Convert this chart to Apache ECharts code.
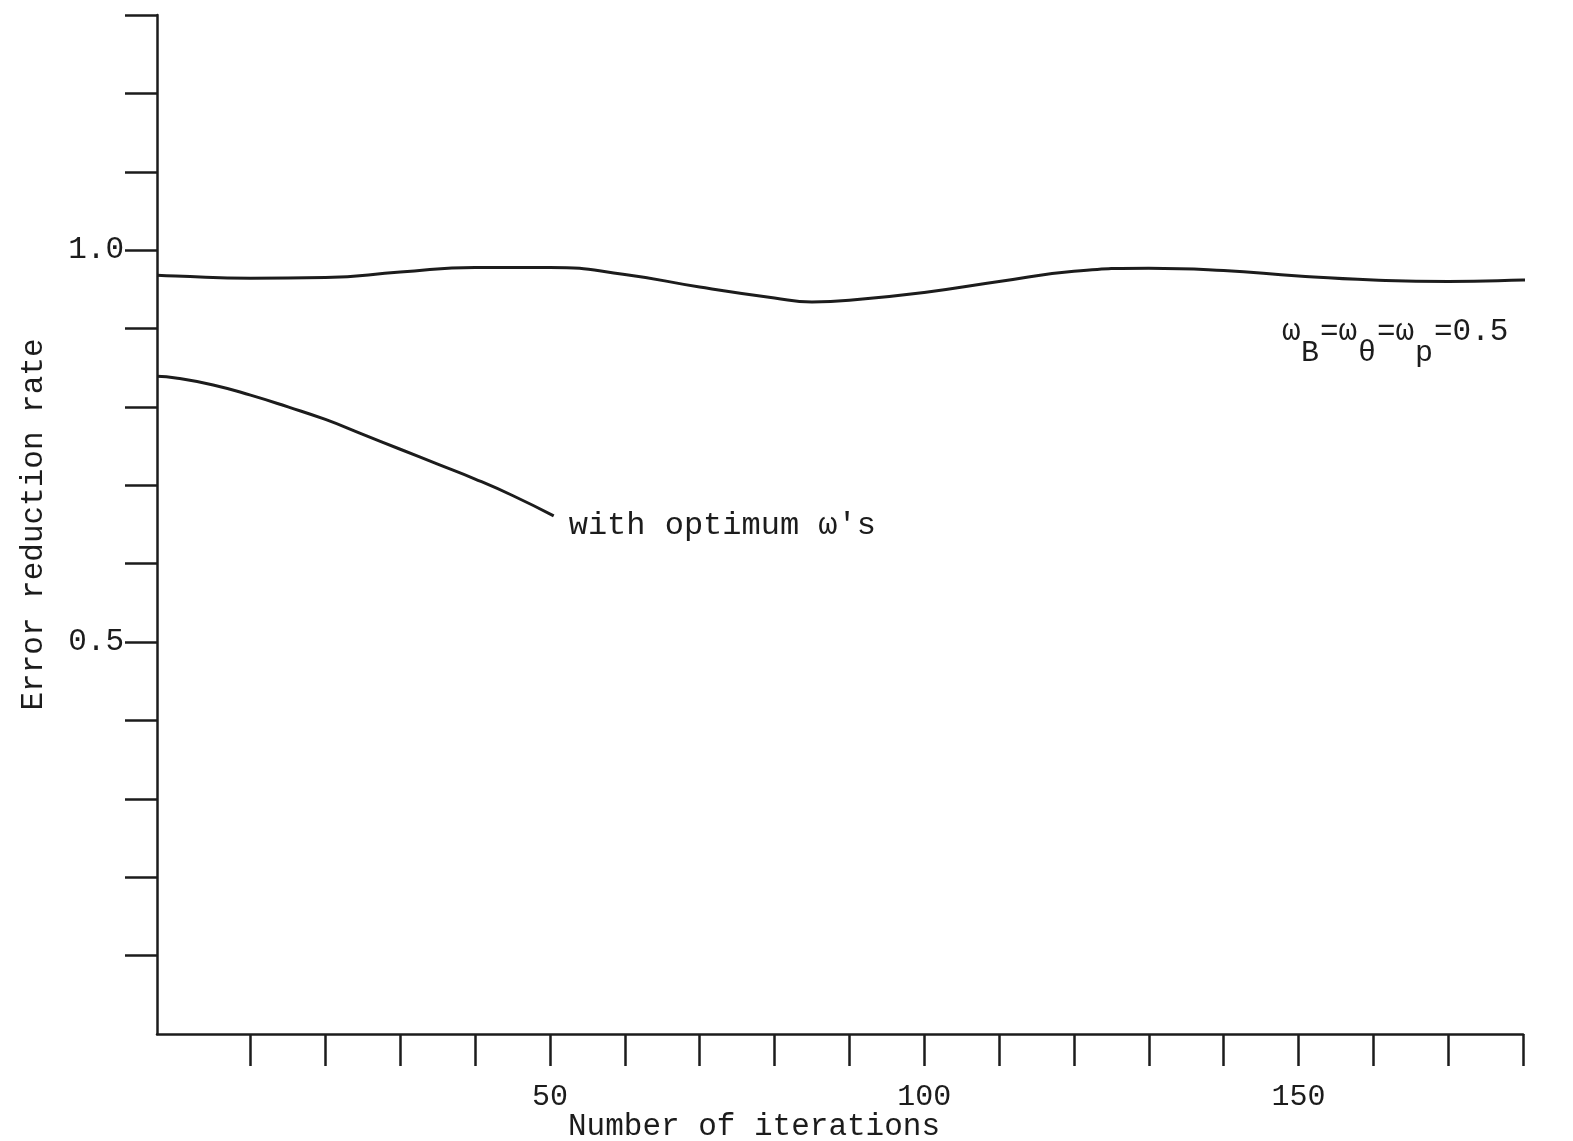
<!DOCTYPE html>
<html>
<head>
<meta charset="utf-8">
<script src="https://cdn.jsdelivr.net/npm/echarts@6/dist/echarts.min.js"></script>
<style>
html,body{margin:0;padding:0;background:#fff;}
#chart{width:1573px;height:1141px;}
</style>
</head>
<body>
<div id="chart"></div>
<script>
// Data
var upperIter = [-2.5, 0, 10, 20, 30, 40, 50, 60, 70, 80, 85, 90, 100, 110, 120, 130, 140, 150, 160, 170, 180, 185];
var upperRate = [0.968, 0.967, 0.964, 0.965, 0.972, 0.978, 0.978, 0.969, 0.953, 0.939, 0.934, 0.936, 0.946, 0.960, 0.973, 0.977, 0.974, 0.967, 0.962, 0.960, 0.962, 0.964];
var lowerIter = [-2.5, 0, 5, 10, 15, 20, 25, 30, 35, 40, 45, 50.5];
var lowerRate = [0.839, 0.837, 0.828, 0.815, 0.800, 0.784, 0.765, 0.746, 0.727, 0.708, 0.687, 0.661];
var xTicks = [10, 20, 30, 40, 50, 60, 70, 80, 90, 100, 110, 120, 130, 140, 150, 160, 170, 180];
var xLabels = [50, 100, 150];
var yTicks = [0.1, 0.2, 0.3, 0.4, 0.5, 0.6, 0.7, 0.8, 0.9, 1.0, 1.1, 1.2, 1.3];
var yLabels = [0.5, 1.0];
// annotation pieces: [text, column]
var noteMain = [['ω', 0], ['=ω', 2], ['=ω', 5], ['=0.5', 8]];
var noteSub = [['B', 1], ['θ', 4], ['p', 7]];

function pairs(xs, ys) { return xs.map(function (x, i) { return [x, ys[i]]; }); }

var FONT = '"Liberation Mono", "DejaVu Sans Mono", monospace';
var INK = '#1c1c1c';
var NOTE_X = 1282, PITCH = 19, MAIN_Y = 332, SUB_Y = 353;

var graphics = [];
noteMain.forEach(function (p) {
  graphics.push({ type: 'text', x: NOTE_X + p[1] * PITCH, y: MAIN_Y,
    style: { text: p[0], fontFamily: FONT, fontSize: 31, fill: INK, verticalAlign: 'middle', align: 'left' } });
});
noteSub.forEach(function (p) {
  graphics.push({ type: 'text', x: NOTE_X + p[1] * PITCH, y: SUB_Y,
    style: { text: p[0], fontFamily: FONT, fontSize: 30, fill: INK, verticalAlign: 'middle', align: 'left' } });
});

var chart = echarts.init(document.getElementById('chart'));
chart.setOption({
  backgroundColor: '#ffffff',
  animation: false,
  grid: { left: 157, right: 50, top: 15, bottom: 107, containLabel: false, outerBoundsMode: 'none' },
  xAxis: {
    type: 'value', min: -2.5, max: 180,
    name: 'Number of iterations', nameLocation: 'middle', nameGap: 77, nameMoveOverlap: false,
    nameTextStyle: { fontFamily: FONT, fontSize: 31, color: INK, padding: [0, 172, 0, 0] },
    axisLine: { show: true, onZero: false, lineStyle: { color: INK, width: 2.5 } },
    axisTick: { show: true, customValues: xTicks, length: 32, lineStyle: { color: INK, width: 2.5 } },
    axisLabel: { customValues: xLabels, margin: 48, fontFamily: FONT, fontSize: 30, color: INK },
    splitLine: { show: false }
  },
  yAxis: {
    type: 'value', min: 0, max: 1.3,
    name: 'Error reduction rate', nameLocation: 'middle', nameGap: 108, nameRotate: 90, nameMoveOverlap: false,
    nameTextStyle: { fontFamily: FONT, fontSize: 31, color: INK },
    axisLine: { show: true, onZero: false, lineStyle: { color: INK, width: 2.5 } },
    axisTick: { show: true, customValues: yTicks, length: 32, lineStyle: { color: INK, width: 2.5 } },
    axisLabel: {
      customValues: yLabels, margin: 33, fontFamily: FONT, fontSize: 31, color: INK,
      formatter: function (v) { return Math.abs(v - 0.5) < 1e-6 ? '0.5' : '1.0'; }
    },
    splitLine: { show: false }
  },
  series: [
    {
      type: 'line', data: pairs(upperIter, upperRate), smooth: true, clip: false,
      showSymbol: false, symbol: 'none',
      lineStyle: { color: INK, width: 3 }
    },
    {
      type: 'line', data: pairs(lowerIter, lowerRate), smooth: true, clip: false,
      showSymbol: false, symbol: 'none',
      lineStyle: { color: INK, width: 3 },
      endLabel: {
        show: true, formatter: "with optimum ω's", distance: 15, offset: [0, 10],
        fontFamily: FONT, fontSize: 32, color: INK
      }
    }
  ],
  graphic: graphics
});
</script>
</body>
</html>
